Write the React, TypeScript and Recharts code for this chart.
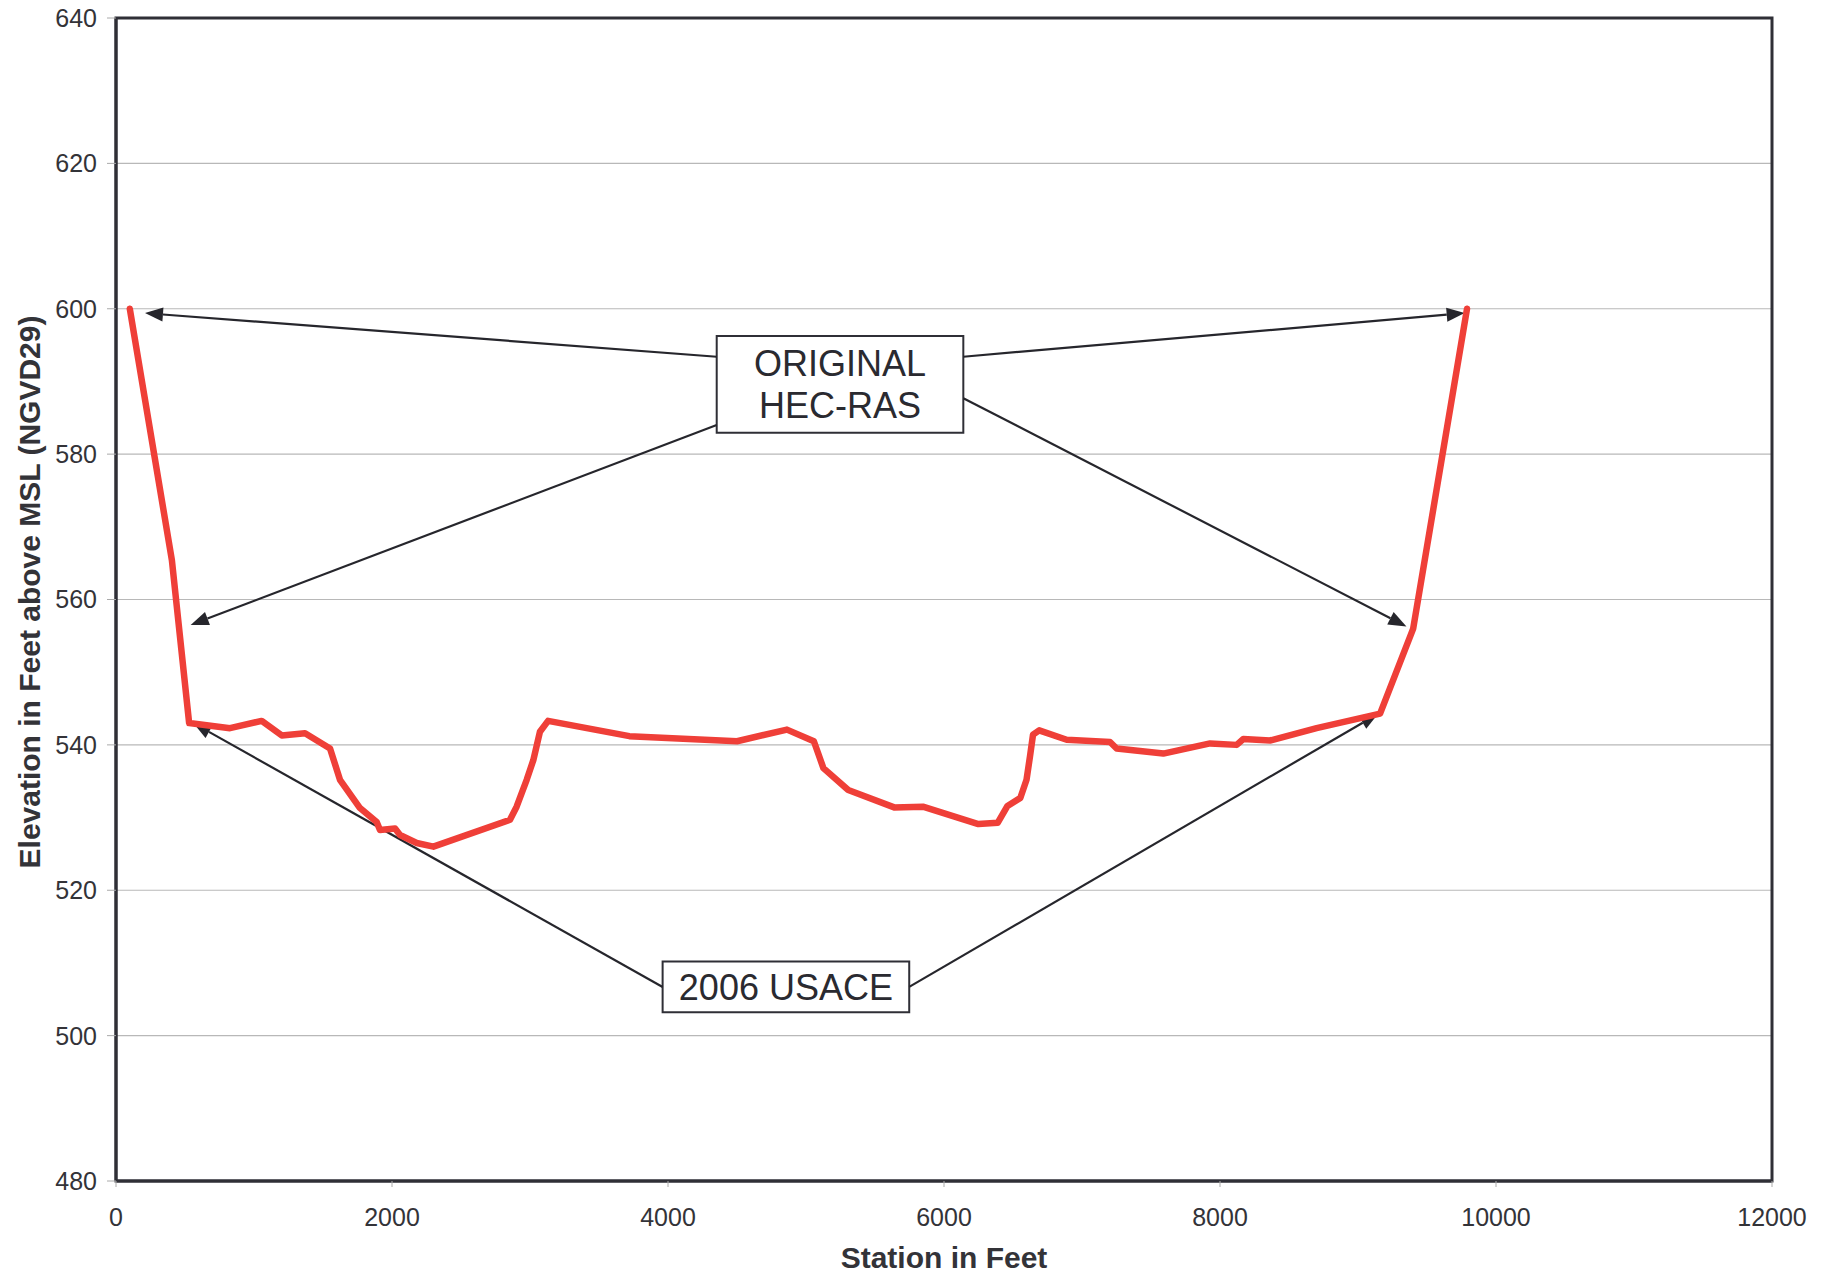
import {
  CartesianGrid,
  Line,
  LineChart,
  ReferenceArea,
  ReferenceLine,
  XAxis,
  YAxis,
} from "recharts";

const FONT = '"Liberation Sans", Arial, sans-serif';

// cross-section survey, station (ft) vs elevation (ft)
const stations = [
  100, 405, 530, 826, 1056, 1201, 1370, 1551, 1623, 1768, 1889, 1913, 2022, 2058, 2179, 2300,
  2855, 2903, 2976, 3024, 3072, 3131, 3720, 4500, 4862, 5057, 5126, 5306, 5639, 5847, 6249,
  6390, 6460, 6553, 6598, 6623, 6645, 6690, 6889, 7203, 7251, 7589, 7928, 8121, 8169, 8362,
  8700, 9160, 9400, 9790,
];
const elevations = [
  600, 565.4, 543, 542.3, 543.3, 541.3, 541.6, 539.5, 535.2, 531.3, 529.4, 528.3, 528.5, 527.6,
  526.5, 526.0, 529.7, 531.5, 535.2, 537.9, 541.8, 543.3, 541.2, 540.5, 542.1, 540.5, 536.8,
  533.8, 531.4, 531.5, 529.1, 529.3, 531.6, 532.7, 535.2, 538.4, 541.4, 542.0, 540.7, 540.4,
  539.5, 538.8, 540.2, 540.0, 540.8, 540.6, 542.3, 544.3, 556, 600,
];

const xTicks = [0, 2000, 4000, 6000, 8000, 10000, 12000];
const yTicks = [480, 500, 520, 540, 560, 580, 600, 620, 640];

// callout boxes and their arrows, in data units
const boxes = [
  { lines: ["ORIGINAL", "HEC-RAS"], x1: 4353, x2: 6140, y1: 582.95, y2: 596.25 },
  { lines: ["2006 USACE"], x1: 3961, x2: 5748, y1: 503.2, y2: 510.2 },
];
const arrows = [
  { from: [4353, 593.4], to: [210, 599.4] },
  { from: [6140, 593.4], to: [9773, 599.4] },
  { from: [4353, 584.0], to: [541, 556.5] },
  { from: [6140, 587.7], to: [9351, 556.3] },
  { from: [3961, 506.7], to: [560, 543.0] },
  { from: [5748, 506.7], to: [9147, 544.3] },
];

const data = stations.map((s, i) => ({ station: s, elevation: elevations[i] }));

const ArrowShape = (props: any) => {
  const { x1, y1, x2, y2 } = props;
  if ([x1, y1, x2, y2].some((v) => typeof v !== "number" || isNaN(v))) return null;
  const ang = Math.atan2(y2 - y1, x2 - x1);
  const len = 18;
  const half = 7;
  const bx = x2 - len * Math.cos(ang);
  const by = y2 - len * Math.sin(ang);
  const px = -Math.sin(ang) * half;
  const py = Math.cos(ang) * half;
  return (
    <g>
      <line x1={x1} y1={y1} x2={bx} y2={by} stroke="#26262c" strokeWidth={2.2} />
      <polygon
        points={`${x2},${y2} ${bx + px},${by + py} ${bx - px},${by - py}`}
        fill="#26262c"
      />
    </g>
  );
};

const boxLabel = (lines: string[]) => (props: any) => {
  const vb = props.viewBox || {};
  const cx = vb.x + vb.width / 2;
  const cy = vb.y + vb.height / 2;
  const lh = 42;
  const top = cy - ((lines.length - 1) * lh) / 2;
  return (
    <text x={cx} textAnchor="middle" fontFamily={FONT} fontSize={36} fill="#2a2a30">
      {lines.map((l, i) => (
        <tspan key={l} x={cx} y={top + i * lh} dy="0.36em">
          {l}
        </tspan>
      ))}
    </text>
  );
};

const YLabel = () => {
  const cy = 592;
  return (
    <text
      x={29}
      y={cy}
      transform={`rotate(-90 29 ${cy})`}
      textAnchor="middle"
      dominantBaseline="central"
      fontFamily={FONT}
      fontSize={30}
      fontWeight="bold"
      fill="#333338"
    >
      Elevation in Feet above MSL (NGVD29)
    </text>
  );
};

const XLabel = (props: any) => {
  const vb = props.viewBox || { x: 116, y: 1181, width: 1656 };
  return (
    <text
      x={vb.x + vb.width / 2}
      y={vb.y + 87}
      textAnchor="middle"
      fontFamily={FONT}
      fontSize={30}
      fontWeight="bold"
      fill="#333338"
    >
      Station in Feet
    </text>
  );
};

const App = () => {
  const border = "#2f2f36";
  return (
    <div style={{ position: "absolute", left: 0, top: 0, width: 1830, height: 1275, background: "#fff" }}>
      <LineChart
        width={1830}
        height={1275}
        data={data}
        margin={{ top: 18, right: 58, bottom: 24, left: 36 }}
      >
        <CartesianGrid vertical={false} stroke="#b8b8b8" strokeWidth={1.2} />
        <XAxis
          dataKey="station"
          type="number"
          domain={[0, 12000]}
          ticks={xTicks}
          interval={0}
          height={70}
          tickSize={6}
          tickMargin={21}
          tick={{ fill: "#333338", fontSize: 25, fontFamily: FONT }}
          tickLine={{ stroke: "#aaaaaa" }}
          axisLine={{ stroke: border, strokeWidth: 3 }}
          label={<XLabel />}
        />
        <YAxis
          type="number"
          domain={[480, 640]}
          ticks={yTicks}
          interval={0}
          width={80}
          tickSize={9}
          tickMargin={10}
          tick={{ fill: "#333338", fontSize: 25, fontFamily: FONT }}
          tickLine={{ stroke: "#aaaaaa" }}
          axisLine={{ stroke: border, strokeWidth: 3 }}
          label={<YLabel />}
        />
        {/* plot frame */}
        <ReferenceArea
          x1={0}
          x2={12000}
          y1={480}
          y2={640}
          fill="none"
          fillOpacity={0}
          stroke={border}
          strokeWidth={3}
          ifOverflow="visible"
        />
        {arrows.map((a, i) => (
          <ReferenceLine
            key={`arrow-${i}`}
            segment={[
              { x: a.from[0], y: a.from[1] },
              { x: a.to[0], y: a.to[1] },
            ]}
            shape={<ArrowShape />}
            ifOverflow="visible"
          />
        ))}
        {boxes.map((b, i) => (
          <ReferenceArea
            key={`box-${i}`}
            x1={b.x1}
            x2={b.x2}
            y1={b.y1}
            y2={b.y2}
            fill="#ffffff"
            fillOpacity={1}
            stroke="#2f2f36"
            strokeWidth={2}
            label={boxLabel(b.lines)}
          />
        ))}
        <Line
          type="linear"
          dataKey="elevation"
          stroke="#ef3f38"
          strokeWidth={6.5}
          strokeLinejoin="round"
          strokeLinecap="round"
          dot={false}
          activeDot={false}
          isAnimationActive={false}
        />
      </LineChart>
    </div>
  );
};

export default App;
